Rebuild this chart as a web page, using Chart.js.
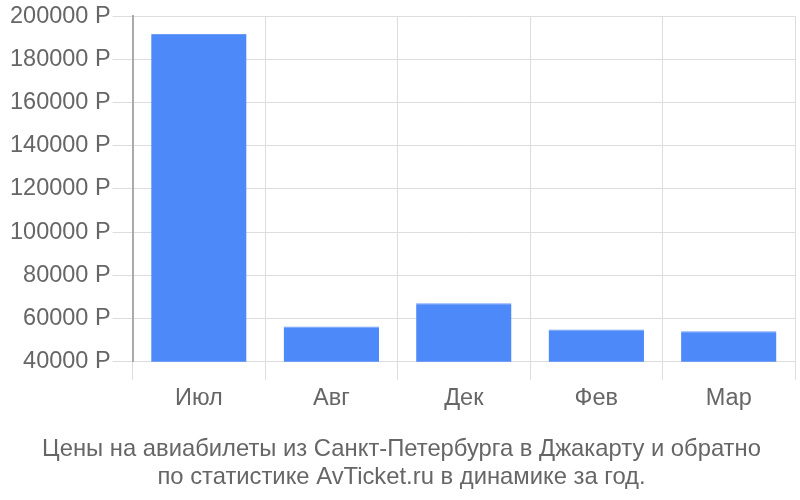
<!DOCTYPE html>
<html>
<head>
<meta charset="utf-8">
<script src="https://cdn.jsdelivr.net/npm/chart.js@4/dist/chart.umd.min.js"></script>
<style>
  html, body { margin: 0; padding: 0; background: #fff; }
  #wrap { width: 800px; height: 500px; }
</style>
</head>
<body>
<div id="wrap"><canvas id="chart"></canvas></div>
<script>
'use strict';

// months and average prices (rub)
const months = ['Июл', 'Авг', 'Дек', 'Фев', 'Мар'];
const prices = [191700, 56300, 67000, 54900, 54100];
const titleLines = [
    'Цены на авиабилеты из Санкт-Петербурга в Джакарту и обратно',
    'по статистике AvTicket.ru в динамике за год.'
];

Chart.defaults.font.family = '"Liberation Sans", Arial, sans-serif';
Chart.defaults.color = '#666';

new Chart(document.getElementById('chart'), {
    type: 'bar',
    data: {
        labels: months,
        datasets: [{
            data: prices,
            backgroundColor: '#4d89f9',
            borderColor: '#6b9cfa',
            borderWidth: { top: 1, left: 0, right: 0, bottom: 0 }
        }]
    },
    options: {
        animation: false,
        responsive: true,
        maintainAspectRatio: false,
        layout: { padding: { top: 12, right: 5, left: 8, bottom: 8 } },
        scales: {
            x: {
                grid: { color: '#ddd', tickLength: 18, lineWidth: 1 },
                border: { display: false },
                ticks: { font: { size: 23.5 }, padding: 5 }
            },
            y: {
                min: 40000,
                max: 200000,
                grid: { color: '#ddd', tickLength: 20 },
                border: { color: '#aaa', width: 2 },
                ticks: {
                    stepSize: 20000,
                    font: { size: 23.5 },
                    padding: 2,
                    callback: (v) => v + ' Р'
                }
            }
        },
        plugins: {
            legend: { display: false },
            tooltip: { enabled: false },
            title: {
                display: true,
                position: 'bottom',
                text: titleLines,
                color: '#666',
                font: { size: 23.8, weight: 'normal', lineHeight: 1.2 },
                padding: { top: 17, bottom: 0 }
            }
        }
    }
});
</script>
</body>
</html>
